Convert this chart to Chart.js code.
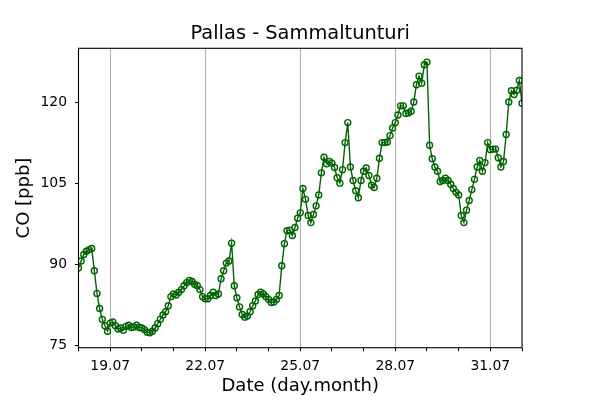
<!DOCTYPE html>
<html>
<head>
<meta charset="utf-8">
<script src="https://cdn.jsdelivr.net/npm/chart.js@4"></script>
<style>
  html, body { margin: 0; padding: 0; background: #fff; }
</style>
</head>
<body>
<canvas id="co" width="600" height="400"></canvas>
<script>
// 2-hourly CO [ppb] at Pallas - Sammaltunturi, one array per day
const co18 = [89.3, 90.6, 91.8, 92.4, 92.7, 92.9, 88.8, 84.6, 81.8, 79.8, 78.6, 77.6];
const co19 = [79.1, 79.3, 78.6, 78.0, 78.2, 77.8, 78.5, 78.7, 78.3, 78.4, 78.7, 78.3];
const co20 = [78.2, 77.9, 77.4, 77.3, 77.6, 78.2, 79.0, 79.8, 80.6, 81.2, 82.3, 84.0];
const co21 = [84.5, 84.3, 84.8, 85.3, 86.0, 86.6, 87.0, 86.8, 86.3, 86.0, 85.3, 84.0];
const co22 = [83.6, 83.6, 84.2, 84.8, 84.2, 84.5, 87.3, 88.8, 90.2, 90.6, 93.9, 86.0];
const co23 = [83.8, 82.1, 80.7, 80.2, 80.4, 81.2, 82.3, 83.2, 84.4, 84.8, 84.5, 84.0];
const co24 = [83.5, 82.9, 83.0, 83.5, 84.2, 89.7, 93.8, 96.2, 96.3, 95.3, 96.8, 98.5];
const co25 = [99.5, 104.0, 102.0, 99.0, 97.7, 99.2, 100.8, 102.8, 106.9, 109.8, 108.6, 109.0];
const co26 = [108.7, 107.9, 106.0, 105.0, 107.5, 112.5, 116.2, 108.0, 105.5, 103.6, 102.3, 105.5];
const co27 = [107.2, 107.8, 106.4, 104.6, 104.2, 105.9, 109.6, 112.5, 112.5, 112.6, 113.8, 115.2];
const co28 = [116.2, 117.6, 119.3, 119.3, 117.9, 118.0, 118.3, 120.0, 123.2, 124.8, 123.5, 126.9];
const co29 = [127.4, 112.0, 109.5, 108.0, 107.2, 105.3, 105.5, 105.9, 105.5, 104.8, 104.0, 103.3];
const co30 = [102.8, 99.0, 97.7, 100.0, 101.8, 103.8, 105.7, 108.0, 109.2, 107.2, 108.8, 112.5];
const co31 = [111.2, 111.3, 111.3, 109.7, 108.0, 109.0, 114.0, 120.0, 122.1, 121.4, 122.2, 124.0];
const coEnd = [119.8];

const startDay = 18;
const stepHours = 2;
const minorDays = [18, 19, 20, 21, 22, 23, 24, 25, 26, 27, 28, 29, 30, 31, 32];
const majorDays = [19, 22, 25, 28, 31];
const dayLabels = ["19.07", "22.07", "25.07", "28.07", "31.07"];
const yTicks = [75, 90, 105, 120];
const chartTitle = "Pallas - Sammaltunturi";

const coValues = [].concat(co18, co19, co20, co21, co22, co23, co24, co25,
	co26, co27, co28, co29, co30, co31, coEnd);
const points = coValues.map((v, i) => ({ x: startDay + i * stepHours / 24, y: v }));

Chart.defaults.font.family = "DejaVu Sans";
Chart.defaults.color = "#000";

// black frame round the plot area, title centred over it
const frame = {
	id: "frame",
	afterDraw(chart) {
		const a = chart.chartArea;
		const c = chart.ctx;
		c.save();
		c.strokeStyle = "#000";
		c.lineWidth = 1.1;
		c.strokeRect(a.left, a.top, a.right - a.left, a.bottom - a.top);
		c.fillStyle = "#000";
		c.font = "19.4px 'DejaVu Sans'";
		c.textAlign = "center";
		c.textBaseline = "middle";
		c.fillText(chartTitle, (a.left + a.right) / 2, 33.6);
		c.restore();
	}
};

new Chart(document.getElementById("co"), {
	type: "line",
	data: {
		datasets: [{
			data: points,
			borderColor: "#006400",
			borderWidth: 1.4,
			pointRadius: 3,
			pointBorderWidth: 1.4,
			pointBorderColor: "#006400",
			pointBackgroundColor: "rgba(0,0,0,0)",
			tension: 0,
			clip: 0,
		}],
	},
	options: {
		responsive: false,
		animation: false,
		layout: { padding: { left: 0, right: 78, top: 48.3, bottom: 0 } },
		plugins: {
			legend: { display: false },
			tooltip: { enabled: false },
			title: { display: false },
		},
		scales: {
			x: {
				type: "linear",
				min: 18,
				max: 32,
				afterBuildTicks: (scale) => { scale.ticks = minorDays.map(d => ({ value: d })); },
				afterFit: (scale) => { scale.height = 52.3; },
				ticks: {
					autoSkip: false,
					maxRotation: 0,
					padding: 7,
					font: { size: 13.9 },
					callback: (v) => {
						const i = majorDays.indexOf(v);
						return i >= 0 ? dayLabels[i] : "";
					},
				},
				grid: {
					color: (c) => (c.tick && majorDays.includes(c.tick.value)) ? "#b0b0b0" : "rgba(0,0,0,0)",
					tickColor: "#000",
					tickLength: 3.5,
					lineWidth: 1,
				},
				border: { display: false },
				title: {
					display: true,
					text: "Date (day.month)",
					font: { size: 18 },
					padding: { top: 0, bottom: 3.2 },
				},
			},
			y: {
				min: 74.55,
				max: 129.95,
				afterBuildTicks: (scale) => { scale.ticks = yTicks.map(v => ({ value: v })); },
				afterFit: (scale) => { scale.width = 78.5; },
				ticks: { padding: 8, font: { size: 13.9 } },
				grid: { drawOnChartArea: false, tickColor: "#000", tickLength: 3.5 },
				border: { display: false },
				title: {
					display: true,
					text: "CO [ppb]",
					font: { size: 18 },
					padding: { top: 13.7, bottom: 0 },
				},
			},
		},
	},
	plugins: [frame],
});
</script>
</body>
</html>
